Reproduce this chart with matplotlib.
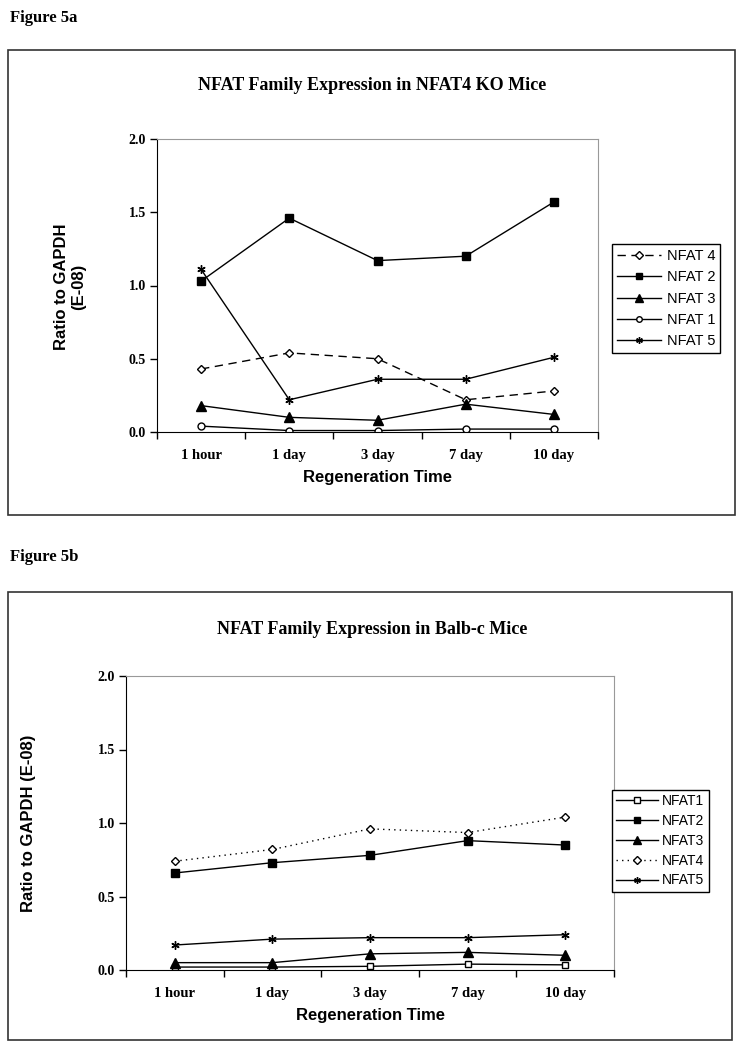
import matplotlib
matplotlib.use('Agg')
import matplotlib.pyplot as plt
from matplotlib.patches import Rectangle
import numpy as np

# categories
times = ['1 hour', '1 day', '3 day', '7 day', '10 day']

# Figure 5a - NFAT4 KO mice (ratio to GAPDH, E-08)
ko_nfat4 = [0.43, 0.54, 0.50, 0.22, 0.28]
ko_nfat2 = [1.03, 1.46, 1.17, 1.20, 1.57]
ko_nfat3 = [0.18, 0.10, 0.08, 0.19, 0.12]
ko_nfat1 = [0.04, 0.01, 0.01, 0.02, 0.02]
ko_nfat5 = [1.11, 0.22, 0.36, 0.36, 0.51]

# Figure 5b - Balb-c mice
balb_nfat1 = [0.02, 0.02, 0.025, 0.04, 0.035]
balb_nfat2 = [0.66, 0.73, 0.78, 0.88, 0.85]
balb_nfat3 = [0.05, 0.05, 0.11, 0.12, 0.10]
balb_nfat4 = [0.74, 0.82, 0.96, 0.935, 1.04]
balb_nfat5 = [0.17, 0.21, 0.22, 0.22, 0.24]

SERIF = 'Liberation Serif'
SANS = 'Liberation Sans'
W, H = 740, 1050

fig = plt.figure(figsize=(W / 100, H / 100), dpi=100)


def px_axes(left, top, right, bottom):
    """Add axes using pixel coordinates (origin top-left)."""
    return fig.add_axes([left / W, 1 - bottom / H, (right - left) / W, (bottom - top) / H])


def px_box(left, top, right, bottom):
    fig.patches.append(Rectangle((left / W, 1 - bottom / H), (right - left) / W,
                                 (bottom - top) / H, transform=fig.transFigure,
                                 fill=False, edgecolor='#333333', linewidth=1.2))


def style_axes(ax):
    x = np.arange(len(times))
    ax.set_xlim(-0.5, len(times) - 0.5)
    ax.set_ylim(0, 2.0)
    ax.set_yticks([0, 0.5, 1.0, 1.5, 2.0])
    ax.set_yticklabels([f'{v:.1f}' for v in [0, 0.5, 1.0, 1.5, 2.0]],
                       fontfamily=SERIF, fontweight='bold', fontsize=10)
    ax.set_xticks(np.arange(-0.5, len(times)), minor=False)
    ax.set_xticklabels([])
    ax.set_xticks(x, minor=True)
    ax.set_xticklabels(times, minor=True, fontfamily=SERIF, fontweight='bold', fontsize=10.5)
    ax.tick_params(axis='x', which='minor', length=0, pad=12)
    ax.tick_params(axis='both', which='major', direction='out', length=5, width=1)
    ax.tick_params(axis='y', pad=3)
    for side in ['top', 'right']:
        ax.spines[side].set_color('#999999')
    for side in ['left', 'bottom']:
        ax.spines[side].set_color('black')
    ax.set_xlabel('Regeneration Time', fontfamily=SANS, fontweight='bold', fontsize=12, labelpad=6)


line_kw = dict(color='black', linewidth=1, markeredgecolor='black')
star = (6, 2, 0)

# ---------- Figure 5a ----------
fig.text(10 / W, 1 - 18 / H, 'Figure 5a', fontfamily=SERIF, fontweight='bold',
         fontsize=12, va='center', ha='left')
px_box(8, 50, 735, 515)
fig.text(372 / W, 1 - 86 / H, 'NFAT Family Expression in NFAT4 KO Mice',
         fontfamily=SERIF, fontweight='bold', fontsize=13, ha='center', va='center')

ax1 = px_axes(157, 139, 598, 432)
x = np.arange(len(times))
ax1.plot(x, ko_nfat4, linestyle=(0, (6, 4)), marker='D', markersize=4.5,
         markerfacecolor='white', label='NFAT 4', **line_kw)
ax1.plot(x, ko_nfat2, marker='s', markersize=6, markerfacecolor='black', label='NFAT 2', **line_kw)
ax1.plot(x, ko_nfat3, marker='^', markersize=7, markerfacecolor='black', label='NFAT 3', **line_kw)
ax1.plot(x, ko_nfat1, marker='o', markersize=5, markerfacecolor='white', label='NFAT 1', **line_kw)
ax1.plot(x, ko_nfat5, marker=star, markersize=6, label='NFAT 5', **line_kw)
style_axes(ax1)
fig.text(70 / W, 1 - 287 / H, 'Ratio to GAPDH\n(E-08)', fontfamily=SANS, fontweight='bold',
         fontsize=12, rotation=90, ha='center', va='center', linespacing=1.2)
leg1 = ax1.legend(loc='upper left', bbox_to_anchor=(612 / W, 1 - 244 / H),
                  bbox_transform=fig.transFigure, prop={'family': SANS, 'size': 10.5},
                  fancybox=False, edgecolor='black', framealpha=1, handlelength=3.0,
                  borderpad=0.35, labelspacing=0.5, handletextpad=0.4, borderaxespad=0,
                  markerscale=0.8)
leg1.get_frame().set_linewidth(1)

# ---------- Figure 5b ----------
fig.text(10 / W, 1 - 557 / H, 'Figure 5b', fontfamily=SERIF, fontweight='bold',
         fontsize=12, va='center', ha='left')
px_box(8, 592, 732, 1040)
fig.text(372 / W, 1 - 630 / H, 'NFAT Family Expression in Balb-c Mice',
         fontfamily=SERIF, fontweight='bold', fontsize=13, ha='center', va='center')

ax2 = px_axes(126, 676, 614, 970)
ax2.plot(x, balb_nfat1, marker='s', markersize=5, markerfacecolor='white', label='NFAT1', **line_kw)
ax2.plot(x, balb_nfat2, marker='s', markersize=6, markerfacecolor='black', label='NFAT2', **line_kw)
ax2.plot(x, balb_nfat3, marker='^', markersize=7, markerfacecolor='black', label='NFAT3', **line_kw)
ax2.plot(x, balb_nfat4, linestyle=(0, (1, 3)), marker='D', markersize=4.5,
         markerfacecolor='white', label='NFAT4', **line_kw)
ax2.plot(x, balb_nfat5, marker=star, markersize=6, label='NFAT5', **line_kw)
style_axes(ax2)
ax2.set_ylabel('Ratio to GAPDH (E-08)', fontfamily=SANS, fontweight='bold', fontsize=12)
ax2.yaxis.set_label_coords((36 - 126) / 488, 0.5)
leg2 = ax2.legend(loc='upper left', bbox_to_anchor=(612 / W, 1 - 790 / H),
                  bbox_transform=fig.transFigure, prop={'family': SANS, 'size': 10},
                  fancybox=False, edgecolor='black', framealpha=1, handlelength=3.0,
                  borderpad=0.3, labelspacing=0.42, handletextpad=0.3, borderaxespad=0,
                  markerscale=0.8)
leg2.get_frame().set_linewidth(1)

fig.savefig('out.png', dpi=100)
